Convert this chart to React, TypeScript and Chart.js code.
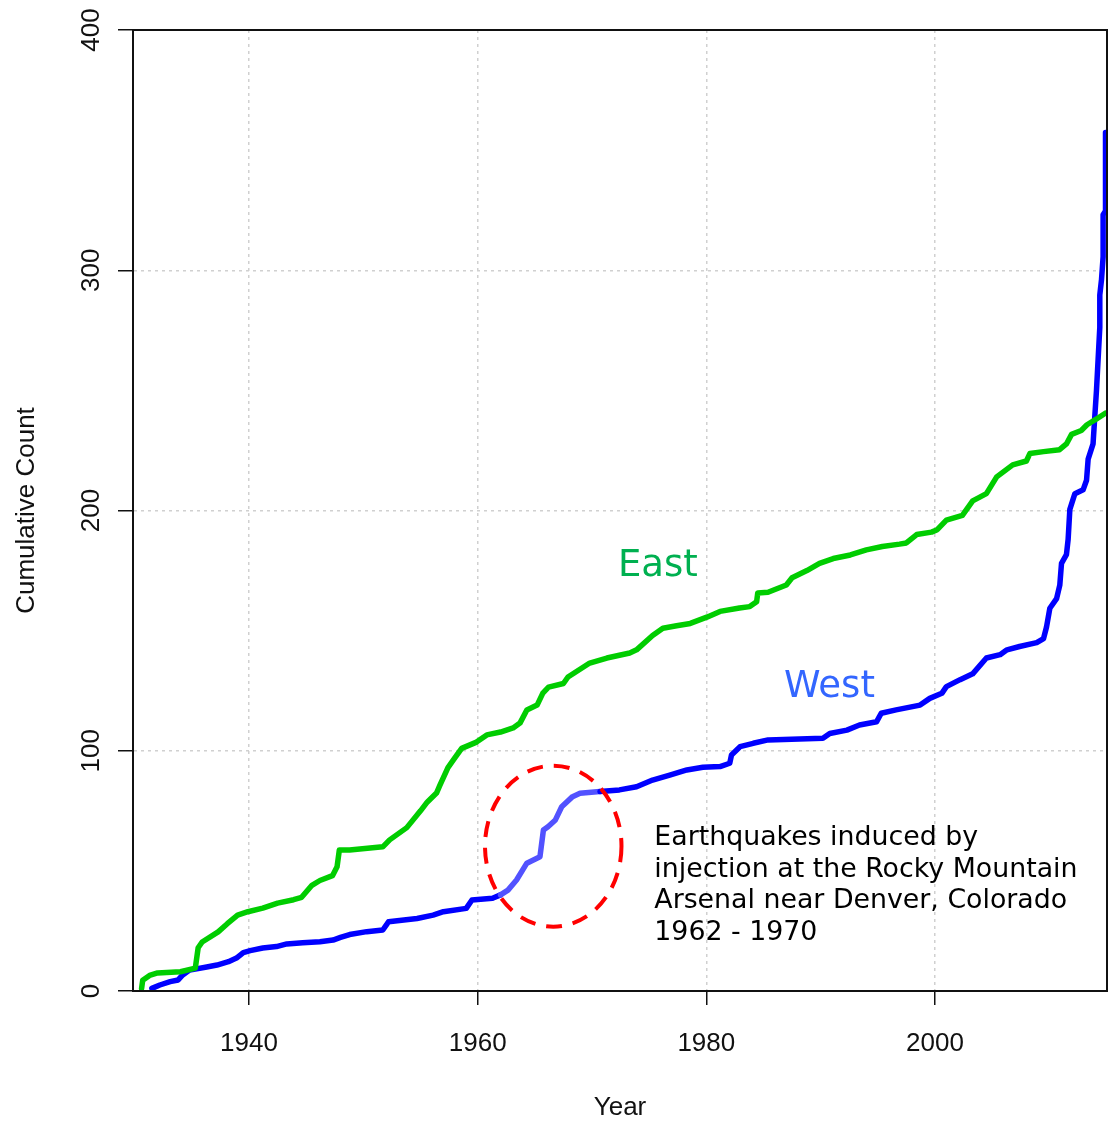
import React, { useEffect, useRef } from 'react';
import { Chart, registerables } from 'chart.js';

Chart.register(...registerables);

// ---- Data ----
const eastYears = [
  1930.6, 1930.7, 1931.3, 1932.0, 1934.0, 1935.3, 1935.55, 1935.9, 1937.3, 1938.1,
  1939.0, 1939.9, 1941.2, 1942.5, 1943.9, 1944.6, 1945.5, 1946.2, 1947.3, 1947.7,
  1947.9, 1948.8, 1951.7, 1952.3, 1953.8, 1955.0, 1955.6, 1956.4, 1956.7, 1957.4,
  1958.0, 1958.6, 1959.9, 1960.8, 1962.0, 1963.1, 1963.7, 1964.3, 1965.2, 1965.7,
  1966.2, 1967.5, 1967.9, 1969.8, 1971.3, 1973.3, 1973.9, 1975.3, 1976.2, 1977.4,
  1978.6, 1980.1, 1981.2, 1982.9, 1983.8, 1984.4, 1984.5, 1985.4, 1987.0, 1987.5,
  1988.8, 1989.9, 1991.1, 1992.6, 1994.0, 1995.4, 1996.9, 1997.5, 1998.4, 1999.7,
  2000.2, 2001.0, 2002.4, 2003.3, 2004.5, 2005.4, 2006.8, 2008.0, 2008.3, 2009.5,
  2010.9, 2011.5, 2011.95, 2012.8, 2013.3, 2014.1, 2014.9,
];
const eastCounts = [
  1, 4.5, 6.5, 7.5, 8, 9.5, 18, 20.4, 24.6, 28,
  31.6, 33, 34.5, 36.6, 38, 39, 44, 46, 48, 51.7,
  58.7, 58.7, 60, 62.9, 68, 75, 78.7, 82.4, 85.7, 93,
  97, 101, 103.6, 106.6, 107.8, 109.5, 111.5, 117, 119, 124,
  126.5, 128, 130.7, 136.5, 138.6, 140.7, 142, 148, 151, 152,
  153, 155.7, 158, 159.4, 160, 162, 165.7, 166, 169, 172,
  175, 178, 180, 181.5, 183.6, 185, 186, 186.5, 190, 191,
  192, 196, 198, 204, 207, 214, 219, 220.6, 223.7, 224.5,
  225.3, 227.7, 231.7, 233.3, 235.7, 238, 240.5,
];

const westYears = [
  1931.5, 1932.2, 1933.1, 1933.8, 1934.2, 1934.8, 1936.3, 1937.2, 1938.2, 1938.9,
  1939.5, 1940.1, 1941.2, 1942.4, 1943.3, 1944.7, 1946.2, 1947.35, 1948.0, 1948.8,
  1950.3, 1951.7, 1952.2, 1954.7, 1956.1, 1957.0, 1959.0, 1959.5, 1961.3, 1962.0,
  1962.65, 1963.4, 1964.3, 1965.45, 1965.75, 1966.15, 1966.8, 1967.35, 1968.3, 1968.95,
  1970.7, 1972.4, 1973.9, 1975.3, 1976.8, 1978.3, 1979.7, 1981.2, 1982.05, 1982.2,
  1982.95, 1984.1, 1985.4, 1990.2, 1990.8, 1992.3, 1993.4, 1994.9, 1995.3, 1996.6,
  1998.7, 1999.55, 2000.6, 2001.0, 2002.2, 2003.3, 2004.5, 2005.7, 2006.3, 2007.4,
  2008.9, 2009.5, 2009.76, 2010.05, 2010.64, 2010.92, 2011.07, 2011.5, 2011.65, 2011.8,
  2012.24, 2012.96, 2013.26, 2013.4, 2013.83, 2013.98, 2014.13, 2014.27, 2014.42, 2014.42,
  2014.57, 2014.71, 2014.71, 2014.92, 2014.92,
];
const westCounts = [
  1.1, 2.5, 3.9, 4.6, 6.7, 8.7, 10, 10.8, 12.2, 13.7,
  16, 16.8, 17.9, 18.5, 19.6, 20.1, 20.5, 21.2, 22.3, 23.5,
  24.7, 25.4, 28.8, 30.2, 31.6, 33, 34.4, 37.9, 38.6, 40,
  42, 46.2, 53.2, 55.9, 67, 68.4, 71.2, 76.7, 80.9, 82.3,
  83, 83.7, 85, 87.8, 89.9, 92, 93.1, 93.4, 94.8, 98.2,
  101.7, 103.1, 104.5, 105.2, 107.2, 108.6, 110.7, 112.1, 115.6, 117,
  119, 121.8, 123.9, 126.7, 129.6, 132, 138.6, 140, 142, 143.4,
  145, 146.7, 151.5, 159.3, 163.3, 168.9, 178, 181.6, 188, 200.5,
  207, 208.6, 212.6, 221.4, 227.7, 239, 250, 262.7, 276.2, 289.7,
  296.1, 305.6, 323.1, 324.7, 357.3,
];

const xTickValues = [1940, 1960, 1980, 2000];
const yTickValues = [0, 100, 200, 300, 400];
const xRange = [1929.85, 2015.05];
const yRange = [0, 400];

// Highlighted (induced) period on the West curve
const highlightPeriod = [1961.9, 1970.8];
// Dashed ellipse around the induced period: center year, center count, half-width (years), half-height (count)
const ellipseCenter = [1966.61, 60.27];
const ellipseRadii = [5.97, 33.5];

const eastLabel = 'East';
const westLabel = 'West';
const eastLabelPos = [1972.27, 172.7];
const westLabelPos = [1986.79, 122.4];
const noteLines = [
  'Earthquakes induced by',
  'injection at the Rocky Mountain',
  'Arsenal near Denver, Colorado',
  '1962 - 1970',
];
const notePos = [1975.45, 60.8];

const AXIS_FONT = '"Liberation Sans", Arial, Helvetica, sans-serif';
const NOTE_FONT = '"DejaVu Sans", Verdana, sans-serif';

const overlayPlugin = {
  id: 'overlay',
  afterDatasetsDraw(chart: any) {
    const { ctx, chartArea: a, scales } = chart;
    const x = scales.x;
    const y = scales.y;
    ctx.save();

    // dashed ellipse
    const cx = x.getPixelForValue(ellipseCenter[0]);
    const cy = y.getPixelForValue(ellipseCenter[1]);
    const rx = Math.abs(x.getPixelForValue(ellipseCenter[0] + ellipseRadii[0]) - cx);
    const ry = Math.abs(y.getPixelForValue(ellipseCenter[1] + ellipseRadii[1]) - cy);
    ctx.strokeStyle = '#ff0000';
    ctx.lineWidth = 4;
    ctx.setLineDash([16, 11]);
    ctx.beginPath();
    ctx.ellipse(cx, cy, rx, ry, 0, 0, Math.PI * 2);
    ctx.stroke();
    ctx.setLineDash([]);

    // series labels
    ctx.textAlign = 'left';
    ctx.textBaseline = 'alphabetic';
    ctx.font = `37px ${NOTE_FONT}`;
    ctx.fillStyle = '#00b050';
    ctx.fillText(eastLabel, x.getPixelForValue(eastLabelPos[0]), y.getPixelForValue(eastLabelPos[1]));
    ctx.fillStyle = '#3366ff';
    ctx.fillText(westLabel, x.getPixelForValue(westLabelPos[0]), y.getPixelForValue(westLabelPos[1]));

    // note
    ctx.font = `26.8px ${NOTE_FONT}`;
    ctx.fillStyle = '#000000';
    const nx = x.getPixelForValue(notePos[0]);
    const ny = y.getPixelForValue(notePos[1]);
    noteLines.forEach((line, i) => {
      ctx.fillText(line, nx, ny + i * 31.7);
    });

    // box around the plot
    ctx.strokeStyle = '#111111';
    ctx.lineWidth = 2;
    ctx.strokeRect(a.left, a.top, a.right - a.left, a.bottom - a.top);
    ctx.restore();
  },
};

export default function App() {
  const canvasRef = useRef<HTMLCanvasElement | null>(null);

  useEffect(() => {
    if (!canvasRef.current) return;
    const inHighlight = (ctx: any) =>
      ctx.p0.parsed.x >= highlightPeriod[0] && ctx.p1.parsed.x <= highlightPeriod[1];

    const chart = new Chart(canvasRef.current, {
      type: 'line',
      data: {
        datasets: [
          {
            label: 'East',
            data: eastYears.map((yr, i) => ({ x: yr, y: eastCounts[i] })),
            borderColor: '#00cd00',
            borderWidth: 5.5,
            pointRadius: 0,
            tension: 0,
            fill: false,
            borderJoinStyle: 'round',
            borderCapStyle: 'round',
          },
          {
            label: 'West',
            data: westYears.map((yr, i) => ({ x: yr, y: westCounts[i] })),
            borderColor: '#0000ff',
            borderWidth: 5.5,
            pointRadius: 0,
            tension: 0,
            fill: false,
            borderJoinStyle: 'round',
            borderCapStyle: 'round',
            segment: {
              borderColor: (ctx: any) => (inHighlight(ctx) ? '#5252ff' : '#0000ff'),
            },
          },
        ],
      },
      options: {
        responsive: false,
        animation: false,
        devicePixelRatio: 1,
        layout: { padding: { top: 30, right: 7, left: 0, bottom: 0 } },
        plugins: {
          legend: { display: false },
          tooltip: { enabled: false },
        },
        scales: {
          x: {
            type: 'linear',
            min: xRange[0],
            max: xRange[1],
            afterBuildTicks: (scale: any) => {
              scale.ticks = xTickValues.map((v) => ({ value: v }));
            },
            afterFit: (scale: any) => {
              scale.height = 132;
            },
            grid: {
              color: '#d0d0d0',
              lineWidth: 1.5,
              tickColor: '#111111',
              tickWidth: 1.5,
              tickLength: 14,
              drawTicks: true,
            },
            border: { display: true, color: '#111111', width: 2, dash: [3, 4] },
            ticks: {
              autoSkip: false,
              maxRotation: 0,
              minRotation: 0,
              padding: 23,
              color: '#111111',
              font: { family: AXIS_FONT, size: 26 },
              callback: (v: any) => String(v),
            },
            title: {
              display: true,
              text: 'Year',
              color: '#111111',
              font: { family: AXIS_FONT, size: 26 },
              padding: { top: 0, bottom: 0 },
            },
          },
          y: {
            type: 'linear',
            min: yRange[0],
            max: yRange[1],
            afterBuildTicks: (scale: any) => {
              scale.ticks = yTickValues.map((v) => ({ value: v }));
            },
            afterFit: (scale: any) => {
              scale.width = 133;
            },
            grid: {
              color: (c: any) =>
                c.tick && (c.tick.value === yRange[0] || c.tick.value === yRange[1])
                  ? 'rgba(0,0,0,0)'
                  : '#d0d0d0',
              lineWidth: 1.5,
              tickColor: '#111111',
              tickWidth: 1.5,
              tickLength: 15,
              drawTicks: true,
            },
            border: { display: true, color: '#111111', width: 2, dash: [3, 4] },
            ticks: {
              autoSkip: false,
              minRotation: 90,
              maxRotation: 90,
              crossAlign: 'center',
              padding: 4,
              color: '#111111',
              font: { family: AXIS_FONT, size: 26 },
              callback: (v: any) => String(v),
            },
            title: {
              display: true,
              text: 'Cumulative Count',
              color: '#111111',
              font: { family: AXIS_FONT, size: 26 },
              padding: { top: 11, bottom: 0 },
            },
          },
        },
      },
      plugins: [overlayPlugin],
    } as any);

    return () => chart.destroy();
  }, []);

  return (
    <div style={{ position: 'absolute', left: 0, top: 0, width: 1114, height: 1123, background: '#ffffff' }}>
      <canvas ref={canvasRef} width={1114} height={1123} style={{ display: 'block' }} />
    </div>
  );
}
